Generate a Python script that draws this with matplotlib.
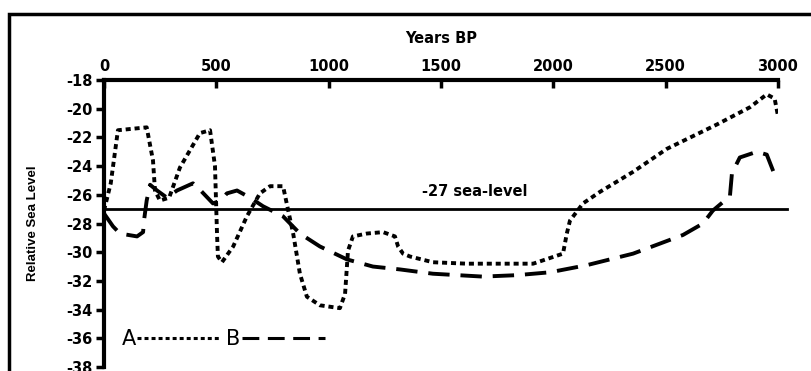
import matplotlib.pyplot as plt
from matplotlib.patches import Rectangle

plt.rcParams['font.family'] = ['DejaVu Sans']
plt.rcParams['axes.unicode_minus'] = False

# curve A (dotted)
a_years = [0, 30, 62, 190, 218, 227, 249, 290, 338, 427, 472, 494, 503, 507, 525,
           575, 636, 694, 739, 797, 820, 842, 872, 903, 961, 1050, 1073, 1086,
           1108, 1170, 1242, 1295, 1309, 1331, 1362, 1464, 1615, 1910, 2043,
           2060, 2074, 2132, 2207, 2355, 2505, 2728, 2875, 2950, 2985, 3000]
a_level = [-27.1, -25.2, -21.5, -21.3, -23.6, -25.7, -26.4, -26.2, -24.1, -21.7,
           -21.5, -24.0, -28.7, -30.3, -30.7, -29.6, -27.5, -25.9, -25.4, -25.4,
           -27.1, -28.7, -31.5, -33.1, -33.7, -33.9, -32.9, -29.9, -28.9, -28.7,
           -28.6, -28.9, -29.6, -30.1, -30.3, -30.7, -30.8, -30.8, -30.1, -28.7,
           -27.8, -26.6, -25.8, -24.4, -22.8, -21.1, -19.9, -19.0, -19.3, -20.5]

# curve B (dashed)
b_years = [0, 40, 71, 147, 174, 178, 190, 205, 236, 280, 325, 396, 418, 485,
           520, 547, 592, 650, 708, 797, 872, 961, 1081, 1197, 1317, 1464, 1686,
           1838, 1985, 2150, 2355, 2577, 2666, 2710, 2786, 2795, 2830, 2906,
           2950, 2990]
b_level = [-27.3, -28.2, -28.7, -28.9, -28.6, -27.8, -26.4, -25.3, -25.7, -26.2,
           -25.7, -25.2, -25.5, -26.6, -26.4, -25.9, -25.7, -26.2, -26.8, -27.5,
           -28.7, -29.6, -30.5, -31.0, -31.2, -31.5, -31.7, -31.6, -31.4, -30.9,
           -30.1, -28.8, -28.0, -27.1, -26.1, -24.5, -23.4, -23.0, -23.2, -24.8]

sea_level = -27
x_ticks = [0, 500, 1000, 1500, 2000, 2500, 3000]
y_ticks = list(range(-38, -17, 2))

fig = plt.figure(figsize=(8.12, 3.71), dpi=100)
fig.patches.append(Rectangle((9 / 812, -0.1), 1.2, 1.1 - 14 / 371, transform=fig.transFigure,
                             fill=False, lw=2.5, ec='black'))
ax = fig.add_axes([104 / 812, 4 / 371, 674 / 812, 287 / 371])

ax.plot(a_years, a_level, color='black', lw=2.8, dashes=(1.3, 1.0), label='A')
ax.plot(b_years, b_level, color='black', lw=2.8, dashes=(5.5, 2.8), label='B')
ax.plot([0, 3040], [sea_level, sea_level], color='black', lw=2, clip_on=False)
ax.text(1415, -25.8, '-27 sea-level', fontsize=10.5, fontweight='bold', va='center')

ax.set_xlim(0, 3000)
ax.set_ylim(-38, -18)
ax.set_xticks(x_ticks)
ax.set_yticks(y_ticks)
ax.xaxis.tick_top()
ax.xaxis.set_label_position('top')
ax.set_xlabel('Years BP', fontsize=10.5, fontweight='bold', labelpad=12)
ax.set_ylabel('Relative Sea Level', fontsize=9.5, fontweight='bold', labelpad=20,
              family='Liberation Sans')
ax.tick_params(axis='x', direction='in', length=6, width=2.5, labelsize=10.5, pad=4)
ax.tick_params(axis='y', direction='out', length=6, width=2.5, labelsize=10.5, pad=2)
for lab in ax.get_xticklabels() + ax.get_yticklabels():
    lab.set_fontweight('bold')
for s in ['right', 'bottom']:
    ax.spines[s].set_visible(False)
ax.spines['left'].set_linewidth(3)
ax.spines['top'].set_linewidth(3)

leg = ax.legend(loc='center left', bbox_to_anchor=(0.026, 0.098), ncol=2, markerfirst=False,
                frameon=False, fontsize=15, handlelength=4.0, handletextpad=0.05,
                columnspacing=0.3, borderpad=0, borderaxespad=0)
for ln in leg.get_lines():
    ln.set_linewidth(2.2)

fig.savefig('out.png', dpi=100)
